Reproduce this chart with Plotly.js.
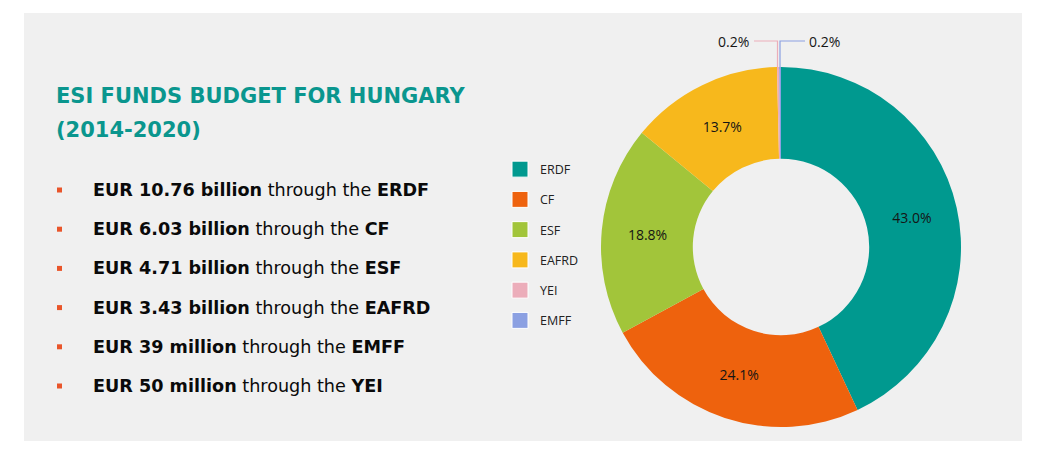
<!DOCTYPE html>
<html>
<head>
<meta charset="utf-8">
<script src="https://cdn.plot.ly/plotly-3.0.1.min.js"></script>
<style>html,body{margin:0;padding:0;background:#fff;}#chart{width:1050px;height:453px;}</style>
</head>
<body>
<div id="chart"></div>
<script>
// ---- data ----
const funds = ['ERDF', 'CF', 'ESF', 'EAFRD', 'YEI', 'EMFF'];
const budgetBillions = [10.76, 6.03, 4.71, 3.43, 0.05, 0.039];
const fundColors = ['#00998f', '#ee620d', '#a2c53a', '#f7b81c', '#ecadba', '#8ba0e2'];
const bulletAmounts = ['EUR 10.76 billion', 'EUR 6.03 billion', 'EUR 4.71 billion', 'EUR 3.43 billion', 'EUR 39 million', 'EUR 50 million'];
const bulletFunds = ['ERDF', 'CF', 'ESF', 'EAFRD', 'EMFF', 'YEI'];
const titleLines = ['ESI FUNDS BUDGET FOR HUNGARY', '(2014-2020)'];

const W = 1050, H = 453;
const px = x => x / W;
const py = y => 1 - y / H;
const total = budgetBillions.reduce((a, b) => a + b, 0);
const pct = v => (100 * v / total).toFixed(1) + '%';

const traces = [{
  type: 'pie',
  labels: funds,
  values: budgetBillions,
  marker: {colors: fundColors, line: {width: 0}},
  hole: 0.49,
  sort: false,
  direction: 'clockwise',
  rotation: 0,
  texttemplate: '%{percent:.1%}',
  textposition: ['inside', 'inside', 'inside', 'inside', 'none', 'none'],
  insidetextorientation: 'horizontal',
  textfont: {family: 'Open Sans, sans-serif', size: 14, color: '#151515'},
  showlegend: false,
  hoverinfo: 'skip',
  domain: {x: [px(601), px(961)], y: [py(427), py(67)]}
}];

// legend entries as marker-only traces so each sits in its own group
funds.forEach((f, i) => {
  traces.push({
    type: 'scatter', mode: 'markers', x: [null], y: [null], name: f,
    legendgroup: f,
    marker: {symbol: 'square', size: 16, color: fundColors[i], line: {color: '#ffffff', width: 1}},
    hoverinfo: 'skip'
  });
});

const annotations = [];
titleLines.forEach((t, i) => {
  annotations.push({
    xref: 'paper', yref: 'paper', x: px(54), y: py(96 + i * 34), xanchor: 'left', yanchor: 'middle',
    text: '<b>' + t + '</b>', showarrow: false,
    font: {family: 'DejaVu Sans, sans-serif', size: 21, color: '#0a968e'}
  });
});
bulletAmounts.forEach((a, i) => {
  const yc = 190 + i * 39.2;
  annotations.push({
    xref: 'paper', yref: 'paper', x: px(91), y: py(yc), xanchor: 'left', yanchor: 'middle',
    text: '<b>' + a + '</b> through the <b>' + bulletFunds[i] + '</b>', showarrow: false,
    font: {family: 'DejaVu Sans, sans-serif', size: 17.6, color: '#0a0a0a'}
  });
});
// small-slice labels (YEI left, EMFF right)
annotations.push({
  xref: 'paper', yref: 'paper', x: px(751), y: py(41), xanchor: 'right', yanchor: 'middle',
  text: pct(budgetBillions[4]), showarrow: false,
  font: {family: 'Open Sans, sans-serif', size: 14, color: '#151515'}
});
annotations.push({
  xref: 'paper', yref: 'paper', x: px(807), y: py(41), xanchor: 'left', yanchor: 'middle',
  text: pct(budgetBillions[5]), showarrow: false,
  font: {family: 'Open Sans, sans-serif', size: 14, color: '#151515'}
});

const shapes = [{
  type: 'rect', xref: 'paper', yref: 'paper', layer: 'below',
  x0: px(24), x1: px(1022), y0: py(441), y1: py(13),
  fillcolor: '#f0f0f0', line: {width: 0}
}];
bulletAmounts.forEach((a, i) => {
  const yc = 190 + i * 39.2;
  shapes.push({
    type: 'rect', xref: 'paper', yref: 'paper', layer: 'above',
    x0: px(57), x1: px(62), y0: py(yc + 2.5), y1: py(yc - 2.5),
    fillcolor: '#e9552a', line: {width: 0}
  });
});
// leader lines
shapes.push({
  type: 'path', xref: 'paper', yref: 'paper', layer: 'below',
  path: 'M ' + px(754) + ' ' + py(41) + ' L ' + px(777.5) + ' ' + py(41) + ' L ' + px(777.5) + ' ' + py(69),
  line: {color: fundColors[4], width: 1.2}
});
shapes.push({
  type: 'path', xref: 'paper', yref: 'paper', layer: 'below',
  path: 'M ' + px(780) + ' ' + py(69) + ' L ' + px(780) + ' ' + py(41) + ' L ' + px(805) + ' ' + py(41),
  line: {color: fundColors[5], width: 1.2}
});

const layout = {
  width: W, height: H,
  margin: {l: 0, r: 0, t: 0, b: 0},
  paper_bgcolor: '#ffffff', plot_bgcolor: 'rgba(0,0,0,0)',
  xaxis: {visible: false}, yaxis: {visible: false},
  showlegend: true,
  legend: {
    x: px(500), y: py(154.5), xanchor: 'left', yanchor: 'top',
    bgcolor: 'rgba(0,0,0,0)', tracegroupgap: 11,
    font: {family: 'Open Sans, sans-serif', size: 12.5, color: '#222'}
  },
  annotations: annotations,
  shapes: shapes
};

Plotly.newPlot('chart', traces, layout, {staticPlot: true});
</script>
</body>
</html>
